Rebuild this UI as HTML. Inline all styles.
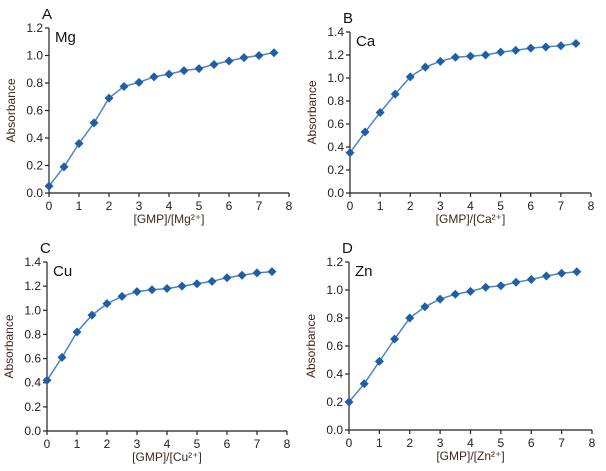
<!DOCTYPE html>
<html><head><meta charset="utf-8"><style>
html,body{margin:0;padding:0;background:#fff;}
svg{display:block;font-family:"Liberation Sans",Arial,sans-serif;}
</style></head><body>
<svg id="fig" width="606" height="471" viewBox="0 0 606 471" xmlns="http://www.w3.org/2000/svg"></svg>
<script>
const xValues=[0,0.5,1,1.5,2,2.5,3,3.5,4,4.5,5,5.5,6,6.5,7,7.5];
const xTicks=[0,1,2,3,4,5,6,7,8];
const mgValues=[0.05,0.19,0.36,0.51,0.69,0.775,0.805,0.845,0.865,0.89,0.905,0.935,0.96,0.985,1.0,1.02];
const caValues=[0.35,0.53,0.70,0.86,1.01,1.095,1.145,1.18,1.19,1.20,1.225,1.24,1.26,1.27,1.28,1.30];
const cuValues=[0.42,0.61,0.82,0.96,1.055,1.115,1.155,1.17,1.18,1.20,1.22,1.24,1.27,1.29,1.31,1.32];
const znValues=[0.2,0.33,0.49,0.65,0.80,0.88,0.935,0.97,0.99,1.02,1.03,1.055,1.075,1.10,1.12,1.13];
const yTicks12=["0.0","0.2","0.4","0.6","0.8","1.0","1.2"];
const yTicks14=["0.0","0.2","0.4","0.6","0.8","1.0","1.2","1.4"];
const panels=[
 {id:'a',letter:'A',ion:'Mg',vals:mgValues,yt:yTicks12,ymax:1.2,x0:49,x1:289,yTop:28,yBot:193},
 {id:'b',letter:'B',ion:'Ca',vals:caValues,yt:yTicks14,ymax:1.4,x0:350,x1:591,yTop:32,yBot:193},
 {id:'c',letter:'C',ion:'Cu',vals:cuValues,yt:yTicks14,ymax:1.4,x0:47,x1:287,yTop:262,yBot:431},
 {id:'d',letter:'D',ion:'Zn',vals:znValues,yt:yTicks12,ymax:1.2,x0:349,x1:592,yTop:262,yBot:430}
];
const NS="http://www.w3.org/2000/svg";
const svg=document.getElementById('fig');
function mk(tag,attrs,parent,text){const e=document.createElementNS(NS,tag);for(const k in attrs)e.setAttribute(k,attrs[k]);if(text!==undefined)e.textContent=text;parent.appendChild(e);return e;}
panels.forEach(p=>{
 const g=mk('g',{},svg);
 
 
 const xs=v=>p.x0+(v/8)*(p.x1-p.x0);
 const ys=v=>p.yBot-(v/p.ymax)*(p.yBot-p.yTop);
 const ax=mk('g',{stroke:'#222','stroke-width':1.2,fill:'none'},g);
 
 
 mk('line',{x1:p.x0,y1:p.yTop,x2:p.x0,y2:p.yBot},ax);
 mk('line',{x1:p.x0,y1:p.yBot,x2:p.x1,y2:p.yBot},ax);
 xTicks.forEach(t=>{
  mk('line',{x1:xs(t),y1:p.yBot,x2:xs(t),y2:p.yBot+4},ax);
  const tl=mk('text',{x:xs(t),y:p.yBot+17,'text-anchor':'middle','font-size':12,fill:'#222',stroke:'none'},g,String(t));
  
  
 });
 p.yt.forEach(t=>{
  const v=parseFloat(t);
  mk('line',{x1:p.x0-4,y1:ys(v),x2:p.x0,y2:ys(v)},ax);
  const tl=mk('text',{x:p.x0-6,y:ys(v)+4,'text-anchor':'end','font-size':12,fill:'#222'},g,t);
  
  
 });
 const pts=p.vals.map((v,i)=>xs(xValues[i]).toFixed(1)+','+ys(v).toFixed(1)).join(' ');
 const line=mk('polyline',{points:pts,fill:'none',stroke:'#4a86c8','stroke-width':1.5},g);
 
 
 p.vals.forEach((v,i)=>{
  const cx=xs(xValues[i]),cy=ys(v),r=4.5;
  const m=mk('polygon',{points:`${cx},${cy-r} ${cx+r},${cy} ${cx},${cy+r} ${cx-r},${cy}`,fill:'#1f5fa8'},g);
  
  
 });
 const yt=mk('text',{transform:`translate(${p.x0-34},${(p.yTop+p.yBot)/2}) rotate(-90)`,'text-anchor':'middle','font-size':12,fill:'#3a2a20'},g,'Absorbance');
 
 
 const xt=mk('text',{x:(p.x0+p.x1)/2,y:p.yBot+30,'text-anchor':'middle','font-size':12,fill:'#3a2a20'},g);
 
 
 xt.textContent='[GMP]/['+p.ion+'²⁺]';
 const lt=mk('text',{x:p.x0-7,y:p.yTop-9,'font-size':15,fill:'#111'},g,p.letter);
 
 
 const it=mk('text',{x:p.x0+6,y:p.yTop+14,'font-size':15,fill:'#111'},g,p.ion);
 
 
});
</script>
</body></html>
